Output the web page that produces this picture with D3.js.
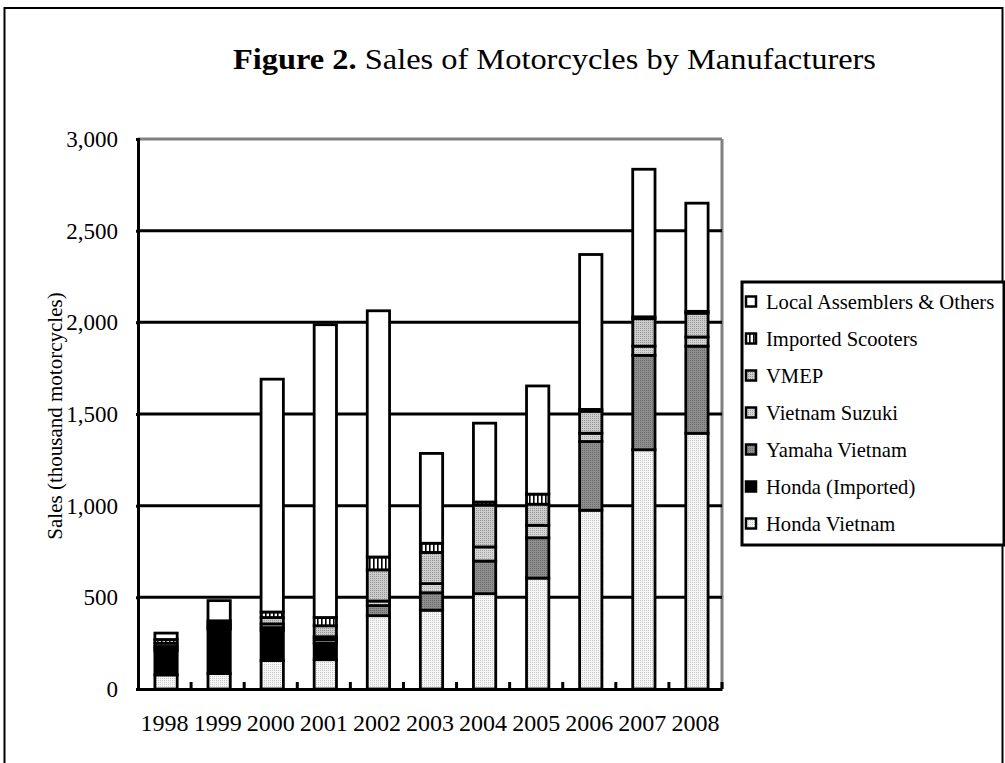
<!DOCTYPE html>
<html>
<head>
<meta charset="utf-8">
<script src="https://cdn.jsdelivr.net/npm/d3@7"></script>
<style>
  html, body { margin: 0; padding: 0; background: #fff; }
  svg { display: block; }
  text { font-family: "Liberation Serif", "Times New Roman", serif; fill: #000; }
</style>
</head>
<body>
<svg id="chart" width="1005" height="763"></svg>
<script>
// ---- data (thousand motorcycles) ----
const years = ["1998","1999","2000","2001","2002","2003","2004","2005","2006","2007","2008"];
const hondaVietnam     = [77, 84, 155, 160, 400, 430, 520, 605, 975, 1305, 1395];
const hondaImported    = [131, 241, 165, 90, 0, 0, 0, 0, 0, 0, 0];
const yamahaVietnam    = [12, 10, 15, 20, 55, 95, 178, 220, 375, 515, 475];
const vietnamSuzuki    = [12, 10, 20, 15, 25, 50, 77, 68, 45, 50, 50];
const vmep             = [18, 12, 35, 60, 170, 170, 228, 115, 120, 150, 130];
const importedScooters = [20, 15, 30, 45, 70, 50, 17, 55, 10, 10, 10];
const localAssemblers  = [35, 110, 1270, 1597, 1343, 490, 430, 590, 845, 805, 590];
const seriesNames = ["Honda Vietnam","Honda (Imported)","Yamaha Vietnam","Vietnam Suzuki","VMEP","Imported Scooters","Local Assemblers & Others"];
const yTicks = [0, 500, 1000, 1500, 2000, 2500, 3000];

const seriesValues = [hondaVietnam, hondaImported, yamahaVietnam, vietnamSuzuki, vmep, importedScooters, localAssemblers];
const keys = ["hv","hi","ya","su","vm","is","la"];

const svg = d3.select("#chart");

// patterns
const defs = svg.append("defs");
function dotPattern(id, bg, dot) {
  const p = defs.append("pattern").attr("id", id).attr("patternUnits","userSpaceOnUse")
    .attr("width", 2).attr("height", 2);
  p.append("rect").attr("width",2).attr("height",2).attr("fill",bg);
  p.append("rect").attr("width",1).attr("height",1).attr("fill",dot);
}
dotPattern("p-hv", "#f6f6f6", "#c8c8c8");
dotPattern("p-ya", "#8e8e8e", "#6a6a6a");
dotPattern("p-su", "#d6d6d6", "#a4a4a4");
dotPattern("p-vm", "#cccccc", "#959595");
{
  const p = defs.append("pattern").attr("id","p-is").attr("patternUnits","userSpaceOnUse")
    .attr("width", 4).attr("height", 4);
  p.append("rect").attr("width",4).attr("height",4).attr("fill","#fff");
  p.append("rect").attr("x",1).attr("width",1.6).attr("height",4).attr("fill","#000");
}
const fills = {hv:"url(#p-hv)", hi:"#000", ya:"url(#p-ya)", su:"url(#p-su)", vm:"url(#p-vm)", is:"url(#p-is)", la:"#fff"};

// outer frame
svg.append("rect").attr("x",4.5).attr("y",8).attr("width",998).attr("height",800)
  .attr("fill","none").attr("stroke","#000").attr("stroke-width",2);

// title
const title = svg.append("text").attr("x", 233).attr("y", 69)
  .attr("font-size", 30).attr("textLength", 643).attr("lengthAdjust", "spacingAndGlyphs");
title.append("tspan").attr("font-weight","bold").text("Figure 2.");
title.append("tspan").text(" Sales of Motorcycles by Manufacturers");

// scales
const pLeft = 138, pRight = 722, pTop = 139, pBottom = 689;
const x = d3.scaleBand().domain(years).range([pLeft, pRight]).padding(0);
const y = d3.scaleLinear().domain([0, 3000]).range([pBottom, pTop]);
const barW = x.step() * 0.42;

// plot frame top/right (gray)
svg.append("line").attr("x1", pLeft).attr("x2", pRight).attr("y1", y(3000)).attr("y2", y(3000))
  .attr("stroke","#808080").attr("stroke-width",3);
svg.append("line").attr("x1", pRight).attr("x2", pRight).attr("y1", y(3000)).attr("y2", y(0))
  .attr("stroke","#808080").attr("stroke-width",3);

// gridlines
svg.append("g").selectAll("line").data(yTicks.filter(t => t > 0 && t < 3000)).join("line")
  .attr("x1", pLeft).attr("x2", pRight).attr("y1", d => y(d)).attr("y2", d => y(d))
  .attr("stroke","#000").attr("stroke-width",3);

// stacked bars
const table = years.map((yr, i) => {
  const o = {year: yr};
  keys.forEach((k, j) => o[k] = seriesValues[j][i]);
  return o;
});
const stack = d3.stack().keys(keys)(table);
const gBars = svg.append("g");
stack.forEach(layer => {
  gBars.append("g").selectAll("rect").data(layer.filter(d => d[1] - d[0] > 0)).join("rect")
    .attr("x", d => x(d.data.year) + (x.step() - barW) / 2 + 1.5)
    .attr("width", barW)
    .attr("y", d => y(d[1]))
    .attr("height", d => y(d[0]) - y(d[1]))
    .attr("fill", fills[layer.key])
    .attr("stroke", "#000").attr("stroke-width", 2.8);
});

// y axis
const yAxis = d3.axisLeft(y).tickValues(yTicks).tickSize(2).tickPadding(18)
  .tickFormat(d3.format(","));
const gy = svg.append("g").attr("transform", `translate(${pLeft},0)`).call(yAxis);
gy.select(".domain").attr("stroke","#000").attr("stroke-width",3);
gy.selectAll(".tick line").attr("stroke","#000").attr("stroke-width",3);
gy.selectAll(".tick text").attr("font-size", 23).attr("font-family", '"Liberation Serif", serif');

// x axis
const xAxis = d3.axisBottom(x).tickSize(0).tickPadding(25);
const gx = svg.append("g").attr("transform", `translate(0,${pBottom})`).call(xAxis);
gx.select(".domain").attr("stroke","#000").attr("stroke-width",3);
gx.selectAll(".tick text").attr("font-size", 24).attr("font-family", '"Liberation Serif", serif');
// inward ticks between categories
const bounds = years.slice(1).map(yr => x(yr)).concat([pRight]);
svg.append("g").selectAll("line").data(bounds).join("line")
  .attr("x1", d => d).attr("x2", d => d).attr("y1", pBottom).attr("y2", pBottom - 7)
  .attr("stroke","#000").attr("stroke-width",3);

// y axis title
svg.append("text").attr("transform", `translate(62,416) rotate(-90)`)
  .attr("text-anchor","middle").attr("font-size", 21)
  .text("Sales (thousand motorcycles)");

// legend
const lg = svg.append("g");
lg.append("rect").attr("x", 742).attr("y", 282).attr("width", 262).attr("height", 263)
  .attr("fill","#fff").attr("stroke","#000").attr("stroke-width",3);
const legendOrder = d3.range(keys.length).reverse();
legendOrder.forEach((j, i) => {
  const cy = 302 + i * 37;
  lg.append("rect").attr("x", 746).attr("y", cy - 5.5).attr("width", 10).attr("height", 10)
    .attr("fill", fills[keys[j]]).attr("stroke","#000").attr("stroke-width",2.5);
  lg.append("text").attr("x", 766).attr("y", cy + 7).attr("font-size", 20.6).text(seriesNames[j]);
});
</script>
</body>
</html>
